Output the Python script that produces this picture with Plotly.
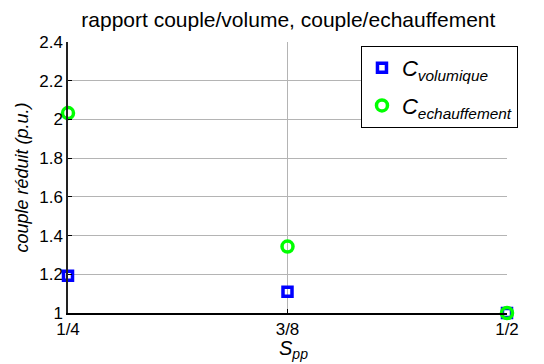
import plotly.graph_objects as go

# Pole/slot ratio positions and their labels
spp_values = [0.25, 0.375, 0.5]
spp_labels = ["1/4", "3/8", "1/2"]

# Reduced torque (p.u.)
c_volumique = [1.193, 1.11, 1.0]
c_echauffement = [2.033, 1.343, 1.0]

font_family = "Liberation Sans, Arial, sans-serif"

fig = go.Figure()

fig.add_trace(go.Scatter(
    x=spp_values, y=c_volumique, mode="markers",
    name="<i>C<sub>volumique</sub></i>", legendgroup="vol",
    marker=dict(symbol="square-open", size=9, color="#0000ff",
                line=dict(width=3.5, color="#0000ff")),
    cliponaxis=False,
))
fig.add_trace(go.Scatter(
    x=spp_values, y=c_echauffement, mode="markers",
    name="<i>C<sub>echauffement</sub></i>", legendgroup="ech",
    marker=dict(symbol="circle-open", size=11, color="#00ff00",
                line=dict(width=3.5, color="#00ff00")),
    cliponaxis=False,
))

fig.update_layout(
    width=544, height=364,
    margin=dict(l=68, r=37, t=42, b=51),
    paper_bgcolor="white", plot_bgcolor="white",
    font=dict(family=font_family, size=17, color="black"),
    title=dict(text="rapport couple/volume, couple/echauffement",
               x=0.53, xanchor="center", y=0.945, yanchor="middle",
               font=dict(size=21)),
    showlegend=True,
    legend=dict(x=1.025, xanchor="right", y=0.985, yanchor="top",
                bgcolor="white", bordercolor="black", borderwidth=1,
                font=dict(size=22), tracegroupgap=6, itemwidth=30),
)

# x-axis title drawn as an annotation so it can be nudged under the 3/8 tick
fig.add_annotation(
    text="<i>S<sub>pp</sub></i>", x=0.5, xref="paper", y=0, yref="paper",
    xanchor="center", yanchor="top", yshift=-22, xshift=6,
    showarrow=False, font=dict(size=20),
)

fig.update_xaxes(
    range=[0.25, 0.5], tickvals=spp_values, ticktext=spp_labels,
    showgrid=True, gridcolor="#b4b4b4", gridwidth=1,
    showline=True, linecolor="black", linewidth=1.5,
    ticks="inside", ticklen=4, tickcolor="black",
    zeroline=False, tickfont=dict(size=17), automargin=False,
)
fig.update_yaxes(
    range=[1, 2.4], dtick=0.2, tick0=1,
    showgrid=True, gridcolor="#b4b4b4", gridwidth=1,
    showline=True, linecolor="#222222", linewidth=1.5,
    ticks="inside", ticklen=4, tickcolor="black",
    zeroline=False, tickfont=dict(size=17), automargin=False,
    title=dict(text="<i>couple réduit (p.u.)</i>", font=dict(size=18), standoff=6),
)

fig.write_html("out.html")
